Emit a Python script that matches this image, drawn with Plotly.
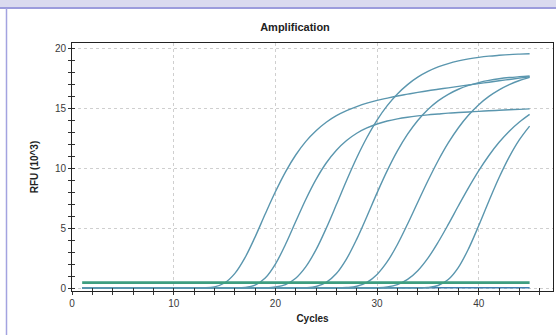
import plotly.graph_objects as go

cycles = list(range(1, 46))

# RFU (x10^3) per cycle
curve_1 = [0, 0, 0, 0, 0, 0, 0, 0, 0, 0, 0, 0, 0.01, 0.10, 0.42, 1.20, 2.52, 4.26, 6.19, 8.05,
           9.72, 11.13, 12.27, 13.16, 13.87, 14.42, 14.84, 15.18, 15.47, 15.70, 15.89, 16.07, 16.22, 16.37, 16.51,
           16.63, 16.75, 16.87, 16.99, 17.11, 17.22, 17.34, 17.45, 17.56, 17.68]
curve_2 = [0, 0, 0, 0, 0, 0, 0, 0, 0, 0, 0, 0, 0, 0, 0, 0, 0.04, 0.24, 0.83, 2.00,
           3.66, 5.56, 7.43, 9.09, 10.46, 11.53, 12.34, 12.95, 13.39, 13.72, 13.97, 14.15, 14.29, 14.40, 14.49,
           14.56, 14.63, 14.68, 14.73, 14.78, 14.83, 14.87, 14.91, 14.95, 14.99]
curve_3 = [0, 0, 0, 0, 0, 0, 0, 0, 0, 0, 0, 0, 0, 0, 0, 0, 0, 0, 0.01, 0.08,
           0.29, 0.82, 1.79, 3.21, 5.00, 6.98, 9.00, 10.90, 12.59, 14.05, 15.26, 16.24, 17.02, 17.64, 18.12,
           18.50, 18.78, 19.00, 19.17, 19.30, 19.40, 19.47, 19.53, 19.57, 19.60]
curve_4 = [0, 0, 0, 0, 0, 0, 0, 0, 0, 0, 0, 0, 0, 0, 0, 0, 0, 0, 0, 0,
           0, 0, 0.02, 0.13, 0.47, 1.21, 2.44, 4.09, 5.99, 7.96, 9.82, 11.47, 12.87, 14.02, 14.94,
           15.66, 16.21, 16.63, 16.95, 17.19, 17.37, 17.51, 17.61, 17.68, 17.74]
curve_5 = [0, 0, 0, 0, 0, 0, 0, 0, 0, 0, 0, 0, 0, 0, 0, 0, 0, 0, 0, 0,
           0, 0, 0, 0, 0, 0, 0.04, 0.15, 0.48, 1.14, 2.20, 3.64, 5.35, 7.17, 8.97,
           10.65, 12.14, 13.41, 14.47, 15.34, 16.03, 16.58, 17.02, 17.36, 17.62]
curve_6 = [0, 0, 0, 0, 0, 0, 0, 0, 0, 0, 0, 0, 0, 0, 0, 0, 0, 0, 0, 0,
           0, 0, 0, 0, 0, 0, 0, 0, 0, 0.02, 0.09, 0.29, 0.72, 1.45, 2.50,
           3.83, 5.32, 6.88, 8.40, 9.82, 11.09, 12.19, 13.12, 13.89, 14.53]
curve_7 = [0, 0, 0, 0, 0, 0, 0, 0, 0, 0, 0, 0, 0, 0, 0, 0, 0, 0, 0, 0,
           0, 0, 0, 0, 0, 0, 0, 0, 0, 0, 0, 0, 0, 0, 0.04,
           0.21, 0.71, 1.73, 3.30, 5.23, 7.28, 9.24, 10.97, 12.41, 13.55]
ntc_green = [0.45] * 45
ntc_blue = [0.02] * 45

sigmoids = [curve_1, curve_2, curve_3, curve_4, curve_5, curve_6, curve_7]

x_ticks = [0, 10, 20, 30, 40]
y_ticks = [0, 5, 10, 15, 20]

curve_color = "#5a96ae"
fig = go.Figure()

fig.add_trace(go.Scatter(x=cycles, y=ntc_blue, mode="lines",
                         line=dict(color="#3f7fb0", width=1.6), showlegend=False))
for ys in sigmoids:
    fig.add_trace(go.Scatter(x=cycles, y=ys, mode="lines", line_shape="spline",
                             line=dict(color=curve_color, width=1.4), showlegend=False))
fig.add_trace(go.Scatter(x=cycles, y=ntc_green, mode="lines",
                         line=dict(color="#3e9e80", width=2.6), showlegend=False))

# dummy trace on overlay axes for crossing tick marks
fig.add_trace(go.Scatter(x=[0], y=[0], xaxis="x2", yaxis="y2", mode="markers",
                         marker=dict(opacity=0), showlegend=False, hoverinfo="skip"))

XR = [0, 47.3]
YR = [-0.25, 20.5]
font_fam = "Liberation Sans, Arial, sans-serif"

fig.update_layout(
    width=556, height=335,
    margin=dict(l=72, r=3, t=43, b=44),
    paper_bgcolor="white", plot_bgcolor="white",
    font=dict(family=font_fam, size=10, color="#3a3a3a"),
    title=dict(text="<b>Amplification</b>", x=295 / 556, xanchor="center",
               y=1 - 27 / 335, yanchor="middle", font=dict(size=11, color="#222222")),
    xaxis=dict(range=XR, tickvals=x_ticks, showgrid=True, gridcolor="#cfcfcf", griddash="dot",
               zeroline=False, showline=True, linecolor="#222222", linewidth=1, mirror=True,
               ticks="outside", ticklen=3, tickcolor="#333333", automargin=False,
               minor=dict(dtick=2, ticks="outside", ticklen=3, tickcolor="#333333", showgrid=False),
               title=dict(text="<b>Cycles</b>", font=dict(size=10, color="#222222"), standoff=6)),
    yaxis=dict(range=YR, tickvals=y_ticks, showgrid=True, gridcolor="#cfcfcf", griddash="dot",
               zeroline=False, showline=True, linecolor="#222222", linewidth=1, mirror=True,
               ticks="outside", ticklen=3, tickcolor="#333333", automargin=False,
               minor=dict(dtick=1, ticks="outside", ticklen=3, tickcolor="#333333", showgrid=False),
               title=dict(text="<b>RFU (10^3)</b>", font=dict(size=10, color="#222222"), standoff=14)),
    xaxis2=dict(range=XR, overlaying="x", anchor="y2", tickvals=x_ticks, showticklabels=False,
                showgrid=False, zeroline=False, showline=False, ticks="inside", ticklen=3,
                tickcolor="#333333", minor=dict(dtick=2, ticks="inside", ticklen=3, tickcolor="#333333")),
    yaxis2=dict(range=YR, overlaying="y", anchor="x2", tickvals=y_ticks, showticklabels=False,
                showgrid=False, zeroline=False, showline=False, ticks="inside", ticklen=3,
                tickcolor="#333333", minor=dict(dtick=1, ticks="inside", ticklen=3, tickcolor="#333333")),
)

# page chrome: header band and left border
PW, PH = 481, 248
band_bottom = (291 - 8) / PH
fig.add_shape(type="rect", xref="paper", yref="paper",
              x0=-75 / PW, x1=486 / PW, y0=band_bottom, y1=(291 + 4) / PH,
              fillcolor="#dadaef", line=dict(width=0), layer="above")
fig.add_shape(type="line", xref="paper", yref="paper",
              x0=-75 / PW, x1=486 / PW, y0=band_bottom, y1=band_bottom,
              line=dict(color="#9c9cdc", width=2), layer="above")
fig.add_shape(type="line", xref="paper", yref="paper",
              x0=(6.5 - 72) / PW, x1=(6.5 - 72) / PW, y0=-47 / PH, y1=band_bottom,
              line=dict(color="#a3a3e0", width=1.5), layer="above")

fig.write_html("out.html", config={"displayModeBar": False},
               post_script="document.body.style.margin='0';document.body.style.overflow='hidden';")
